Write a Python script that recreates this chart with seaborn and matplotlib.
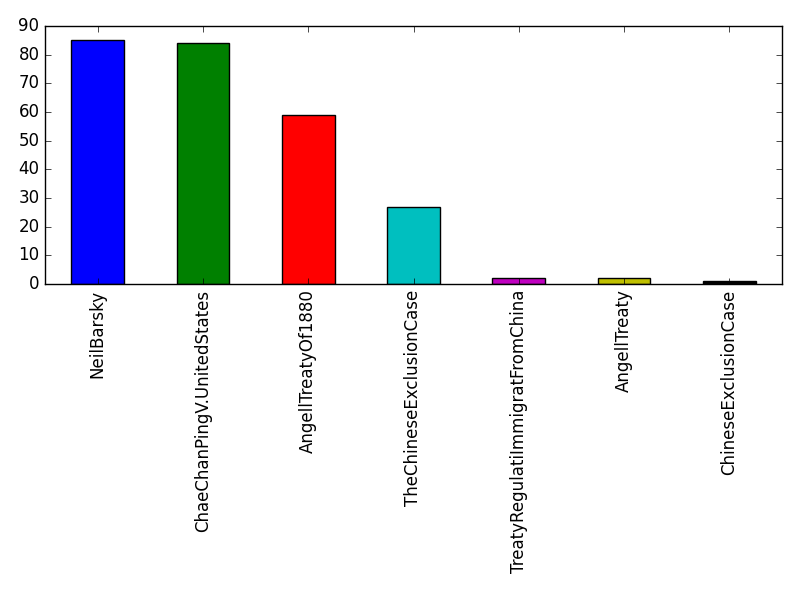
import matplotlib
matplotlib.use("Agg")
import matplotlib.pyplot as plt
import seaborn as sns
import pandas as pd

categories = ["NeilBarsky", "ChaeChanPingV.UnitedStates", "AngellTreatyOf1880",
              "TheChineseExclusionCase", "TreatyRegulatiImmigratFromChina",
              "AngellTreaty", "ChineseExclusionCase"]
values = [85, 84, 59, 27, 2, 2, 1]
colors = ["b", "g", "r", "c", "m", "y", "k"]

plt.style.use("classic")
plt.rcParams['font.family'] = ['DejaVu Sans']

df = pd.DataFrame({"name": categories, "count": values})
fig = plt.figure(figsize=(8, 6), dpi=100)
ax = fig.add_axes([0.05625, 0.5267, 0.92125, 0.43])
sns.barplot(data=df, x="name", y="count", hue="name", palette=colors,
            legend=False, width=0.5, edgecolor="black", linewidth=1,
            saturation=1, ax=ax)
ax.set_xlabel("")
ax.set_ylabel("")
ax.set_xlim(-0.5, len(categories) - 0.5)
ax.set_ylim(0, 90)
ax.set_xticks(range(len(categories)))
ax.set_xticklabels(categories, rotation=90)
ax.tick_params(direction="in", top=True, right=True)
fig.savefig("out.png", dpi=100)
